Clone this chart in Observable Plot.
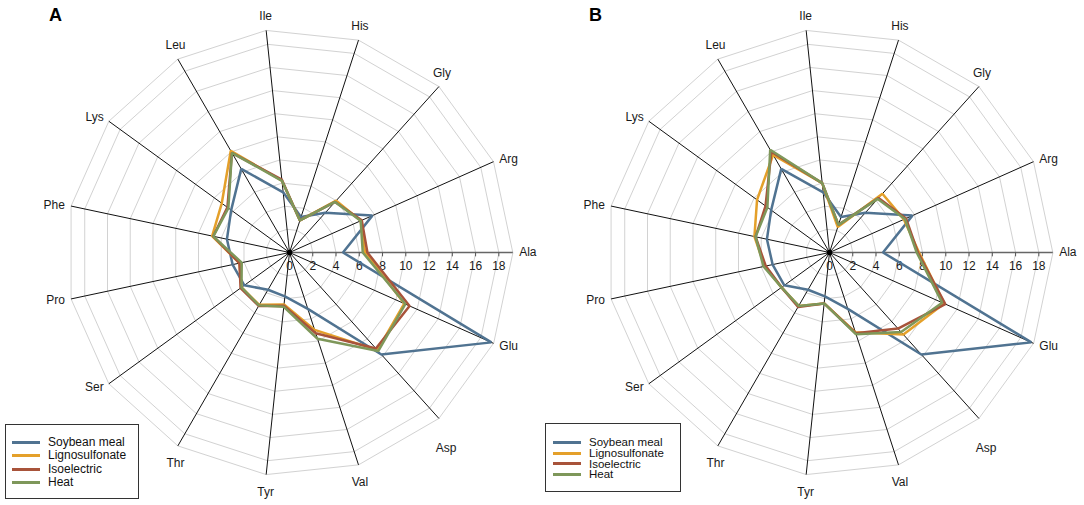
<!DOCTYPE html>
<html>
<head>
<meta charset="utf-8">
<script src="https://cdn.jsdelivr.net/npm/d3@7"></script>
<script src="https://cdn.jsdelivr.net/npm/@observablehq/plot@0.6"></script>
<style>
  html, body { margin: 0; padding: 0; background: #fff; }
  #wrap { position: relative; width: 1084px; height: 505px; font-family: "Liberation Sans", Arial, sans-serif; }
  #wrap svg { position: absolute; left: 0; top: 0; }
  .letter { position: absolute; font-weight: bold; font-size: 18px; line-height: 18px; color: #000; }
  .legend { position: absolute; border: 1px solid #333; background: #fff; box-sizing: border-box; color: #111; }
  .legend .row { display: flex; align-items: center; white-space: nowrap; }
  .legend .sw { display: inline-block; width: 28px; height: 3px; margin-right: 8px; }
</style>
</head>
<body>
<div id="wrap"></div>
<script>
// ---- data ----
const aminoAcids = ["Ala","Arg","Gly","His","Ile","Leu","Lys","Phe","Pro","Ser","Thr","Tyr","Val","Asp","Glu"];
const seriesNames = ["Soybean meal","Lignosulfonate","Isoelectric","Heat"];
const seriesColors = ["#507391","#e4a02a","#a8533a","#7e975a"];
const panels = ["A","B"];
const tickValues = [0,2,4,6,8,10,12,14,16,18];
const tickLabels = ["0","2","4","6","8","10","12","14","16","18"];
const ringValues = [2,4,6,8,10,12,14,16,18];
const axisMax = 19.2;

//                  Ala  Arg  Gly  His  Ile  Leu   Lys  Phe  Pro  Ser  Thr  Tyr  Val  Asp   Glu
const soybeanMeal = [4.6, 7.8, 4.6, 3.2, 5.2, 8.3,  6.2, 5.5, 5.0, 4.8, 3.7, 3.8, 5.1, 11.8, 19.0];
const lignoA      = [6.5, 6.7, 6.0, 2.9, 6.2, 10.1, 7.2, 6.8, 4.4, 5.1, 5.2, 4.5, 7.0, 11.3, 10.8];
const isoA        = [6.7, 6.8, 5.85,2.9, 6.3, 9.9,  6.6, 6.7, 4.4, 5.2, 5.3, 4.6, 7.3, 11.1, 11.3];
const heatA       = [6.3, 6.7, 5.85,2.9, 6.2, 9.9,  6.5, 6.7, 4.2, 5.1, 5.25,4.7, 7.8, 11.4, 10.9];
const lignoB      = [7.7, 7.0, 6.8, 2.3, 6.0, 9.7,  7.7, 6.6, 5.7, 5.1, 5.3, 4.4, 7.2, 9.5,  10.8];
const isoB        = [7.6, 7.2, 6.3, 2.5, 6.0, 10.0, 6.8, 6.5, 5.6, 5.1, 5.4, 4.4, 7.3, 8.8,  10.9];
const heatB       = [7.5, 7.1, 6.2, 2.5, 6.0, 10.2, 6.6, 6.5, 5.8, 5.1, 5.3, 4.4, 7.4, 9.2,  10.6];

const seriesByPanel = {
  A: [soybeanMeal, lignoA, isoA, heatA],
  B: [soybeanMeal, lignoB, isoB, heatB]
};

// ---- geometry through scales ----
const W = 1084, H = 505;
const k = 11.63;                 // px per unit
const cxA = 289, cy = 252, cxB = 829;
const panelOffset = {A: 0, B: (cxB - cxA) / k};
const ang = i => i * 2 * Math.PI / aminoAcids.length;
const px = (p, i, v) => panelOffset[p] + v * Math.cos(ang(i));
const py = (i, v) => v * Math.sin(ang(i));

const seriesRows = [];
for (const p of panels) {
  seriesByPanel[p].forEach((vals, s) => {
    vals.forEach((v, i) => seriesRows.push({panel: p, series: seriesNames[s], key: p + s, i, v}));
  });
}
const ringRows = [];
for (const p of panels) for (const r of [...ringValues, axisMax]) aminoAcids.forEach((a, i) => ringRows.push({panel: p, key: p + r, i, v: r}));
const spokeRows = [];
for (const p of panels) aminoAcids.forEach((a, i) => spokeRows.push({panel: p, i, name: a}));
const tickRows = [];
for (const p of panels) tickValues.forEach((t, j) => tickRows.push({panel: p, v: t, label: tickLabels[j]}));

const cosA = d => Math.cos(ang(d.i)), sinA = d => Math.sin(ang(d.i));
const sideRows = spokeRows.filter(d => Math.abs(cosA(d)) > 0.75);
const topRows = spokeRows.filter(d => Math.abs(cosA(d)) <= 0.75 && sinA(d) > 0);
const botRows = spokeRows.filter(d => Math.abs(cosA(d)) <= 0.75 && sinA(d) < 0 && cosA(d) < 0.6);
const botRightRows = spokeRows.filter(d => Math.abs(cosA(d)) <= 0.75 && sinA(d) < 0 && cosA(d) >= 0.6);

const labelFont = {fontSize: 12, fill: "#1a1a1a", fontFamily: "Liberation Sans, Arial, sans-serif"};

const chart = Plot.plot({
  width: W, height: H, margin: 0,
  x: {type: "linear", domain: [-cxA / k, (W - cxA) / k], range: [0, W], axis: null},
  y: {type: "linear", domain: [cy / k, -(H - cy) / k], range: [0, H], axis: null},
  color: {domain: seriesNames, range: seriesColors},
  marks: [
    // grid rings
    Plot.line(ringRows, {x: d => px(d.panel, d.i, d.v), y: d => py(d.i, d.v), z: "key", curve: "linear-closed", stroke: "#d2d2d2", strokeWidth: 1}),
    // spokes (non-Ala)
    Plot.link(spokeRows.filter(d => d.i !== 0), {x1: d => panelOffset[d.panel], y1: 0, x2: d => px(d.panel, d.i, axisMax), y2: d => py(d.i, axisMax), stroke: "#111", strokeWidth: 1}),
    // Ala value axis
    Plot.link(spokeRows.filter(d => d.i === 0), {x1: d => panelOffset[d.panel], y1: 0, x2: d => px(d.panel, 0, axisMax), y2: 0, stroke: "#666", strokeWidth: 1.6}),
    Plot.link(tickRows, {x1: d => panelOffset[d.panel] + d.v, x2: d => panelOffset[d.panel] + d.v, y1: 0, y2: -0.33, stroke: "#555", strokeWidth: 1}),
    Plot.text(tickRows, {x: d => panelOffset[d.panel] + d.v, y: 0, text: "label", dy: 14, lineAnchor: "middle", textAnchor: "middle", ...labelFont}),
    // series polygons
    Plot.line(seriesRows, {x: d => px(d.panel, d.i, d.v), y: d => py(d.i, d.v), z: "key", stroke: "series", curve: "linear-closed", strokeWidth: 2.5, strokeLinejoin: "miter"}),
    // center hub
    Plot.dot(panels, {x: p => panelOffset[p], y: () => 0, r: 2.8, fill: "#000", stroke: null}),
    // category labels
    Plot.text(sideRows.filter(d => cosA(d) > 0), {x: d => px(d.panel, d.i, axisMax + 0.55), y: d => py(d.i, axisMax + 0.55), text: "name", textAnchor: "start", lineAnchor: "middle", ...labelFont}),
    Plot.text(sideRows.filter(d => cosA(d) < 0), {x: d => px(d.panel, d.i, axisMax + 0.55), y: d => py(d.i, axisMax + 0.55), text: "name", textAnchor: "end", lineAnchor: "middle", ...labelFont}),
    Plot.text(topRows, {x: d => px(d.panel, d.i, axisMax + 0.4), y: d => py(d.i, axisMax + 0.4), text: "name", textAnchor: "middle", lineAnchor: "middle", dy: -10, ...labelFont}),
    Plot.text(botRows, {x: d => px(d.panel, d.i, axisMax + 0.4), y: d => py(d.i, axisMax + 0.4), text: "name", textAnchor: "middle", lineAnchor: "middle", dy: 13, ...labelFont}),
    Plot.text(botRightRows, {x: d => px(d.panel, d.i, axisMax + 0.4), y: d => py(d.i, axisMax + 0.4), text: "name", textAnchor: "middle", lineAnchor: "middle", dx: 4, dy: 26, ...labelFont})
  ]
});

const wrap = document.getElementById("wrap");
wrap.appendChild(chart);

// panel letters
[["A", 49, 6], ["B", 589, 6]].forEach(([t, l, tp]) => {
  const d = document.createElement("div");
  d.className = "letter"; d.textContent = t;
  d.style.left = l + "px"; d.style.top = tp + "px";
  wrap.appendChild(d);
});

// legends
function legend(left, top, width, height, rowH, padTop, padLeft, fontSize) {
  const box = document.createElement("div");
  box.className = "legend";
  Object.assign(box.style, {left: left + "px", top: top + "px", width: width + "px", height: height + "px", paddingTop: padTop + "px", paddingLeft: padLeft + "px", fontSize: fontSize + "px", lineHeight: rowH + "px"});
  seriesNames.forEach((n, s) => {
    const row = document.createElement("div");
    row.className = "row"; row.style.height = rowH + "px"; row.style.lineHeight = rowH + "px";
    const sw = document.createElement("span"); sw.className = "sw"; sw.style.background = seriesColors[s];
    const tx = document.createElement("span"); tx.textContent = n;
    row.appendChild(sw); row.appendChild(tx); box.appendChild(row);
  });
  wrap.appendChild(box);
}
legend(5, 424, 134, 75, 13.3, 11, 6, 12);
legend(545, 423, 136, 69, 10.8, 13, 7, 11.5);
</script>
</body>
</html>
